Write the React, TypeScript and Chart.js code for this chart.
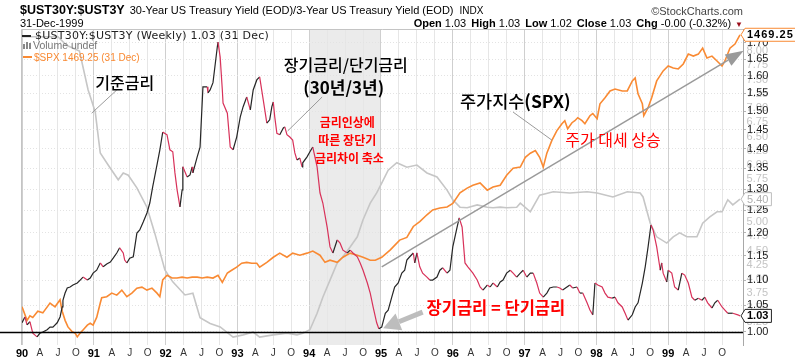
import React, { useEffect, useRef } from 'react';
import { Chart, registerables } from 'chart.js';

Chart.register(...registerables);

// ---------------- data (decimal year, value) ----------------
// 30-year / 3-year treasury yield ratio (weekly, sampled)
const RATIO: [number, number][] = [
  [1990.00,1.017],[1990.04,1.028],[1990.07,1.013],[1990.11,1.019],[1990.15,0.998],[1990.21,0.991],[1990.25,0.998],[1990.29,1.000],
  [1990.35,1.004],[1990.39,1.009],[1990.43,1.009],[1990.49,1.017],[1990.53,1.028],[1990.56,1.047],[1990.57,1.060],[1990.60,1.074],
  [1990.63,1.084],[1990.67,1.086],[1990.71,1.090],[1990.77,1.094],[1990.81,1.100],[1990.85,1.106],[1990.91,1.100],[1990.95,1.104],
  [1990.99,1.114],[1991.04,1.120],[1991.09,1.135],[1991.13,1.127],[1991.18,1.133],[1991.23,1.137],[1991.27,1.145],[1991.32,1.156],
  [1991.36,1.167],[1991.41,1.156],[1991.43,1.141],[1991.46,1.135],[1991.50,1.145],[1991.55,1.148],[1991.60,1.199],[1991.64,1.206],
  [1991.69,1.224],[1991.74,1.244],[1991.78,1.267],[1991.82,1.305],[1991.88,1.359],[1991.92,1.397],[1991.96,1.443],[1992.02,1.436],
  [1992.06,1.397],[1992.10,1.392],[1992.13,1.339],[1992.16,1.298],[1992.20,1.258],[1992.23,1.298],[1992.24,1.354],[1992.30,1.329],
  [1992.34,1.334],[1992.37,1.354],[1992.38,1.339],[1992.44,1.379],[1992.48,1.404],[1992.52,1.568],[1992.58,1.568],[1992.59,1.551],
  [1992.62,1.559],[1992.66,1.580],[1992.72,1.687],[1992.73,1.702],[1992.76,1.656],[1992.79,1.559],[1992.80,1.522],[1992.86,1.494],
  [1992.90,1.404],[1992.94,1.397],[1992.99,1.430],[1993.04,1.484],[1993.08,1.512],[1993.13,1.539],[1993.18,1.503],[1993.22,1.559],
  [1993.27,1.588],[1993.31,1.597],[1993.36,1.531],[1993.41,1.467],[1993.45,1.476],[1993.48,1.512],[1993.50,1.525],[1993.52,1.484],
  [1993.55,1.440],[1993.59,1.436],[1993.64,1.454],[1993.66,1.457],[1993.69,1.436],[1993.73,1.430],[1993.77,1.422],[1993.80,1.389],
  [1993.83,1.371],[1993.87,1.376],[1993.90,1.354],[1993.91,1.364],[1993.97,1.379],[1994.01,1.392],[1994.05,1.404],[1994.11,1.354],
  [1994.15,1.291],[1994.19,1.267],[1994.25,1.212],[1994.29,1.169],[1994.33,1.156],[1994.39,1.184],[1994.43,1.177],[1994.47,1.162],
  [1994.53,1.156],[1994.57,1.162],[1994.61,1.156],[1994.67,1.148],[1994.71,1.135],[1994.75,1.120],[1994.81,1.094],[1994.85,1.074],
  [1994.89,1.047],[1994.94,1.017],[1994.97,1.006],[1995.01,1.009],[1995.06,1.035],[1995.10,1.041],[1995.15,1.066],[1995.19,1.086],
  [1995.24,1.094],[1995.29,1.114],[1995.33,1.120],[1995.36,1.141],[1995.40,1.148],[1995.45,1.156],[1995.47,1.135],[1995.50,1.156],
  [1995.54,1.127],[1995.58,1.114],[1995.64,1.106],[1995.68,1.100],[1995.72,1.100],[1995.78,1.106],[1995.82,1.120],[1995.86,1.125],
  [1995.92,1.114],[1995.96,1.120],[1996.00,1.169],[1996.06,1.212],[1996.09,1.233],[1996.13,1.212],[1996.17,1.135],[1996.21,1.127],
  [1996.28,1.114],[1996.34,1.100],[1996.38,1.086],[1996.42,1.080],[1996.48,1.090],[1996.52,1.086],[1996.56,1.094],[1996.62,1.086],
  [1996.66,1.096],[1996.70,1.100],[1996.75,1.114],[1996.80,1.120],[1996.84,1.114],[1996.89,1.106],[1996.94,1.114],[1996.98,1.120],
  [1997.03,1.106],[1997.08,1.114],[1997.12,1.114],[1997.17,1.094],[1997.21,1.074],[1997.26,1.066],[1997.31,1.074],[1997.35,1.084],
  [1997.40,1.086],[1997.45,1.086],[1997.49,1.084],[1997.53,1.080],[1997.59,1.086],[1997.63,1.090],[1997.67,1.084],[1997.73,1.086],
  [1997.77,1.074],[1997.81,1.074],[1997.87,1.055],[1997.91,1.041],[1997.95,1.032],[1997.98,1.094],[1998.02,1.090],[1998.08,1.086],
  [1998.12,1.074],[1998.16,1.066],[1998.22,1.064],[1998.26,1.066],[1998.30,1.055],[1998.36,1.047],[1998.40,1.035],[1998.44,1.022],
  [1998.50,1.032],[1998.54,1.047],[1998.58,1.055],[1998.64,1.094],[1998.68,1.127],[1998.72,1.169],[1998.76,1.217],[1998.79,1.206],
  [1998.84,1.169],[1998.89,1.120],[1998.91,1.135],[1998.93,1.114],[1998.98,1.096],[1999.00,1.120],[1999.05,1.114],[1999.09,1.086],
  [1999.14,1.080],[1999.19,1.114],[1999.23,1.110],[1999.28,1.094],[1999.33,1.066],[1999.37,1.060],[1999.42,1.064],[1999.47,1.060],
  [1999.51,1.066],[1999.55,1.055],[1999.61,1.045],[1999.65,1.055],[1999.69,1.060],[1999.75,1.047],[1999.79,1.041],[1999.83,1.035],
  [1999.90,1.035],[1999.97,1.032],[2000.00,1.03],
];

// S&P 500 index
const SPX: [number, number][] = [
  [1990.00,343],[1990.07,319],[1990.11,327],[1990.15,324],[1990.22,335],[1990.29,332],[1990.39,350],[1990.46,343],[1990.53,356],
  [1990.56,335],[1990.60,319],[1990.64,308],[1990.70,300],[1990.74,298],[1990.77,292],[1990.81,298],[1990.85,303],[1990.91,311],
  [1990.95,314],[1990.99,311],[1991.04,324],[1991.09,350],[1991.11,360],[1991.18,362],[1991.25,369],[1991.32,365],[1991.39,375],
  [1991.46,362],[1991.53,369],[1991.60,379],[1991.67,381],[1991.74,375],[1991.81,379],[1991.88,369],[1991.92,362],[1991.96,396],
  [1992.02,406],[1992.09,400],[1992.16,400],[1992.23,402],[1992.30,400],[1992.37,402],[1992.44,402],[1992.51,400],[1992.58,402],
  [1992.66,400],[1992.73,406],[1992.79,391],[1992.86,411],[1992.92,417],[1992.99,424],[1993.06,433],[1993.13,435],[1993.20,433],
  [1993.27,433],[1993.31,424],[1993.41,435],[1993.50,447],[1993.59,457],[1993.69,447],[1993.77,457],[1993.87,452],[1993.97,457],
  [1994.05,462],[1994.15,452],[1994.22,435],[1994.29,440],[1994.39,435],[1994.47,447],[1994.57,457],[1994.67,452],[1994.75,447],
  [1994.85,440],[1994.92,440],[1995.01,447],[1995.13,465],[1995.26,490],[1995.36,497],[1995.45,527],[1995.54,541],[1995.64,561],
  [1995.72,576],[1995.82,582],[1995.92,585],[1996.00,596],[1996.10,631],[1996.20,647],[1996.28,657],[1996.38,665],[1996.48,640],
  [1996.56,651],[1996.66,657],[1996.75,693],[1996.84,720],[1996.94,724],[1997.01,763],[1997.08,780],[1997.15,791],[1997.21,763],
  [1997.26,724],[1997.31,780],[1997.38,835],[1997.45,880],[1997.52,913],[1997.56,928],[1997.60,889],[1997.66,918],[1997.70,928],
  [1997.74,943],[1997.80,928],[1997.84,913],[1997.91,953],[1997.95,964],[1998.01,938],[1998.05,1016],[1998.12,1049],[1998.19,1088],
  [1998.26,1099],[1998.36,1088],[1998.43,1088],[1998.50,1148],[1998.54,1166],[1998.58,1071],[1998.64,1016],[1998.66,953],
  [1998.72,995],[1998.77,1049],[1998.84,1148],[1998.93,1211],[1999.00,1243],[1999.07,1230],[1999.14,1224],[1999.21,1257],
  [1999.28,1325],[1999.35,1311],[1999.42,1325],[1999.48,1368],[1999.54,1297],[1999.61,1311],[1999.68,1277],[1999.75,1243],
  [1999.79,1277],[1999.86,1368],[1999.93,1398],[2000.00,1469.25],
];

// Fed funds rate (기준금리)
const FED: [number, number][] = [
  [1990.00,8.25],[1990.50,8.25],[1990.62,8.10],[1990.80,8.00],[1990.92,7.32],[1991.02,6.93],[1991.09,6.21],[1991.20,6.00],
  [1991.34,5.74],[1991.41,5.86],[1991.48,5.82],[1991.60,5.60],[1991.74,5.26],[1991.85,4.80],[1991.99,4.16],[1992.10,3.95],
  [1992.27,3.72],[1992.38,3.75],[1992.48,3.32],[1992.62,3.22],[1992.76,3.16],[1992.94,2.98],[1993.08,3.02],[1993.22,3.07],
  [1993.31,2.98],[1993.50,3.02],[1993.69,3.05],[1993.83,3.02],[1993.91,3.05],[1994.01,3.11],[1994.11,3.40],[1994.19,3.68],
  [1994.29,3.98],[1994.39,4.28],[1994.47,4.39],[1994.57,4.56],[1994.67,4.74],[1994.75,5.04],[1994.85,5.33],[1994.94,5.51],
  [1995.01,5.68],[1995.10,5.91],[1995.22,6.04],[1995.36,5.96],[1995.50,6.00],[1995.64,5.86],[1995.78,5.79],[1995.92,5.56],
  [1996.00,5.39],[1996.10,5.26],[1996.20,5.25],[1996.34,5.30],[1996.48,5.26],[1996.56,5.25],[1996.66,5.26],[1996.75,5.25],
  [1996.89,5.26],[1996.94,5.33],[1997.08,5.18],[1997.21,5.47],[1997.40,5.53],[1997.63,5.51],[1997.87,5.53],[1998.01,5.51],
  [1998.23,5.44],[1998.43,5.53],[1998.61,5.51],[1998.65,5.44],[1998.75,4.98],[1998.84,4.74],[1998.98,4.63],[1999.07,4.74],
  [1999.16,4.81],[1999.26,4.74],[1999.40,4.74],[1999.48,4.98],[1999.58,5.09],[1999.68,5.18],[1999.75,5.18],[1999.83,5.39],
  [1999.90,5.30],[2000.00,5.40],
];

const YEARS = [1990, 1991, 1992, 1993, 1994, 1995, 1996, 1997, 1998, 1999];
const YEAR_LABELS = ['90', '91', '92', '93', '94', '95', '96', '97', '98', '99'];
const QUARTER_LABELS = ['', 'A', 'J', 'O'];
const RATIO_TICKS = [1.0, 1.05, 1.1, 1.15, 1.2, 1.25, 1.3, 1.35, 1.4, 1.45, 1.5, 1.55, 1.6, 1.65, 1.7];
const FED_TICKS = [3.25, 3.5, 3.75, 4.0, 4.25, 4.5, 4.75, 5.0, 5.25, 5.5, 5.75, 6.0, 6.25, 6.5, 6.75, 7.0, 7.25, 7.5, 7.75, 8.0];
const SHADE = [1994.0, 1995.0];

// annotations anchored in (year, ratio-axis value)
const NOTES = [
  { text: '기준금리', t: 1991.43, v: 1.579, size: 16, weight: '500', color: '#000' },
  { text: '장기금리/단기금리', t: 1994.51, v: 1.632, size: 16, weight: '500', color: '#000' },
  { text: '(30년/3년)', t: 1994.48, v: 1.565, size: 17, weight: 'bold', color: '#000' },
  { text: '금리인상에', t: 1994.53, v: 1.470, size: 12, weight: 'bold', color: '#ff0000' },
  { text: '따른 장단기', t: 1994.53, v: 1.422, size: 12, weight: 'bold', color: '#ff0000' },
  { text: '금리차이 축소', t: 1994.56, v: 1.376, size: 12, weight: 'bold', color: '#ff0000' },
  { text: '주가 대세 상승', t: 1998.23, v: 1.422, size: 16, weight: 'normal', color: '#ff0000' },
  { text: '장기금리 = 단기금리', t: 1996.60, v: 1.045, size: 16.5, weight: 'bold', color: '#ff0000' },
];
const SPX_NOTE = { a: '주가지수', b: '(SPX)', t: 1996.87, v: 1.528, size: 17.5 };
const CONNECTORS = [
  [1991.32, 1.559, 1990.97, 1.494],
  [1994.18, 1.539, 1993.70, 1.446],
  [1996.84, 1.497, 1997.38, 1.422],
];
const TREND_ARROW = [1995.01, 1.127, 2000.05, 1.675];
const EQUAL_ARROW = [1995.58, 1.037, 1995.03, 1.007];

const SANS = '"Liberation Sans", Arial, sans-serif';
const KR = '"Noto Sans CJK KR", "Noto Sans CJK SC", sans-serif';
const ORANGE = '#f98a33';
const RED_DOWN = '#d8325a';
const DARK_UP = '#262626';

function isYearTick(v: number) {
  return Math.abs(v - Math.round(v)) < 1e-6;
}

function arrow(ctx: any, x0: number, y0: number, x1: number, y1: number, w: number, hl: number, hh: number, color: string) {
  const a = Math.atan2(y1 - y0, x1 - x0);
  const bx = x1 - hl * Math.cos(a);
  const by = y1 - hl * Math.sin(a);
  ctx.strokeStyle = color;
  ctx.lineWidth = w;
  ctx.beginPath();
  ctx.moveTo(x0, y0);
  ctx.lineTo(bx, by);
  ctx.stroke();
  ctx.fillStyle = color;
  ctx.beginPath();
  ctx.moveTo(x1, y1);
  ctx.lineTo(bx + hh * Math.sin(a), by - hh * Math.cos(a));
  ctx.lineTo(bx - hh * Math.sin(a), by + hh * Math.cos(a));
  ctx.closePath();
  ctx.fill();
}

function tag(ctx: any, x: number, y: number, text: string, stroke: string, color: string, font: string, spacing: string) {
  ctx.save();
  ctx.font = font;
  (ctx as any).letterSpacing = spacing;
  const w = ctx.measureText(text).width;
  const h = 13;
  const tip = 4;
  ctx.beginPath();
  ctx.moveTo(x, y);
  ctx.lineTo(x + tip, y - h / 2);
  ctx.lineTo(x + tip + w + 5, y - h / 2);
  ctx.lineTo(x + tip + w + 5, y + h / 2);
  ctx.lineTo(x + tip, y + h / 2);
  ctx.closePath();
  ctx.fillStyle = '#fff';
  ctx.fill();
  ctx.strokeStyle = stroke;
  ctx.lineWidth = 1;
  ctx.stroke();
  ctx.fillStyle = color;
  ctx.textAlign = 'left';
  ctx.textBaseline = 'middle';
  ctx.fillText(text, x + tip + 2, y + 0.5);
  ctx.restore();
}

const annotPlugin = {
  id: 'annot',
  beforeDraw(chart: any) {
    const { ctx, chartArea: a, scales } = chart;
    const x0 = scales.x.getPixelForValue(SHADE[0]);
    const x1 = scales.x.getPixelForValue(SHADE[1]);
    ctx.save();
    ctx.fillStyle = '#ebebeb';
    ctx.fillRect(x0, a.top, x1 - x0, a.bottom - a.top);
    ctx.restore();
  },
  afterDatasetsDraw(chart: any) {
    const { ctx, chartArea: a, scales } = chart;
    const X = (t: number) => scales.x.getPixelForValue(t);
    const Y = (v: number) => scales.y.getPixelForValue(v);
    ctx.save();
    // frame
    ctx.strokeStyle = '#c4c4c4';
    ctx.lineWidth = 1;
    ctx.beginPath();
    ctx.moveTo(a.left + 0.5, a.bottom);
    ctx.lineTo(a.left + 0.5, a.top + 0.5);
    ctx.lineTo(a.right, a.top + 0.5);
    ctx.stroke();
    // parity line at ratio 1.00
    const y1 = Math.round(Y(1.0)) + 0.5;
    ctx.strokeStyle = '#000';
    ctx.lineWidth = 1.5;
    ctx.beginPath();
    ctx.moveTo(0, y1);
    ctx.lineTo(a.right, y1);
    ctx.stroke();
    // connectors
    ctx.strokeStyle = '#9a9a9a';
    ctx.lineWidth = 1;
    CONNECTORS.forEach(([t0, v0, t1, v1]) => {
      ctx.beginPath();
      ctx.moveTo(X(t0), Y(v0));
      ctx.lineTo(X(t1), Y(v1));
      ctx.stroke();
    });
    // arrows
    arrow(ctx, X(TREND_ARROW[0]), Y(TREND_ARROW[1]), X(TREND_ARROW[2]), Y(TREND_ARROW[3]), 1.5, 18, 6.5, '#9a9a9a');
    arrow(ctx, X(EQUAL_ARROW[0]), Y(EQUAL_ARROW[1]), X(EQUAL_ARROW[2]), Y(EQUAL_ARROW[3]), 5, 17, 9, '#bdbdbd');
    // texts
    ctx.textAlign = 'center';
    ctx.textBaseline = 'middle';
    NOTES.forEach((n) => {
      ctx.font = `${n.weight} ${n.size}px ${KR}`;
      ctx.fillStyle = n.color;
      ctx.fillText(n.text, X(n.t), Y(n.v));
    });
    // 주가지수(SPX)
    const fa = `500 ${SPX_NOTE.size}px ${KR}`;
    const fb = `bold ${SPX_NOTE.size}px ${KR}`;
    ctx.font = fa;
    const wa = ctx.measureText(SPX_NOTE.a).width;
    ctx.font = fb;
    const wb = ctx.measureText(SPX_NOTE.b).width;
    const sx = X(SPX_NOTE.t) - (wa + wb) / 2;
    const sy = Y(SPX_NOTE.v);
    ctx.textAlign = 'left';
    ctx.fillStyle = '#000';
    ctx.font = fa;
    ctx.fillText(SPX_NOTE.a, sx, sy);
    ctx.font = fb;
    ctx.fillText(SPX_NOTE.b, sx + wa, sy);
    ctx.restore();
  },
  afterDraw(chart: any) {
    const { ctx, chartArea: a, scales } = chart;
    const lastR = RATIO[RATIO.length - 1][1];
    const lastS = SPX[SPX.length - 1][1];
    const lastF = FED[FED.length - 1][1];
    tag(ctx, a.right - 2, scales.yFed.getPixelForValue(lastF), lastF.toFixed(2), '#bdbdbd', '#b0b0b0', `11px ${SANS}`, '0px');
    tag(ctx, a.right - 2, scales.y.getPixelForValue(lastR), lastR.toFixed(2), '#222', '#000', `bold 11px ${SANS}`, '0px');
    tag(ctx, a.right - 2, scales.ySpx.getPixelForValue(lastS), lastS.toFixed(2), ORANGE, '#000', `bold 11px ${SANS}`, '1px');
  },
};

const QUARTER_TICKS: number[] = [];
YEARS.forEach((y) => [0, 1, 2, 3].forEach((q) => QUARTER_TICKS.push(y + q / 4)));

function quarterLabel(v: number) {
  const q = Math.round((v - YEARS[0]) * 4);
  if (q % 4 === 0) return YEAR_LABELS[q / 4];
  return QUARTER_LABELS[q % 4];
}

export default function App() {
  const ref = useRef<HTMLCanvasElement>(null);

  useEffect(() => {
    const canvas = ref.current as HTMLCanvasElement;
    const pts = (arr: [number, number][]) => arr.map(([x, y]) => ({ x, y }));
    const chart = new Chart(canvas, {
      type: 'line',
      data: {
        datasets: [
          {
            label: '$UST30Y:$UST3Y',
            data: pts(RATIO),
            yAxisID: 'y',
            borderColor: DARK_UP,
            borderWidth: 1.2,
            pointRadius: 0,
            segment: {
              borderColor: (c: any) => (c.p1.parsed.y < c.p0.parsed.y ? RED_DOWN : DARK_UP),
            },
          },
          {
            label: '$SPX',
            data: pts(SPX),
            yAxisID: 'ySpx',
            borderColor: ORANGE,
            borderWidth: 1.6,
            pointRadius: 0,
          },
          {
            label: 'Fed',
            data: pts(FED),
            yAxisID: 'yFed',
            borderColor: '#c6c6c6',
            borderWidth: 1.6,
            pointRadius: 0,
          },
        ],
      } as any,
      options: {
        responsive: false,
        animation: false,
        devicePixelRatio: 1,
        layout: { padding: { left: 21, top: 29, right: 0, bottom: 0 } },
        plugins: { legend: { display: false }, tooltip: { enabled: false } },
        elements: { line: { tension: 0 }, point: { radius: 0 } },
        scales: {
          x: {
            type: 'linear',
            min: 1989.986,
            max: 2000.042,
            afterBuildTicks: (s: any) => {
              s.ticks = QUARTER_TICKS.map((v) => ({ value: v }));
            },
            afterFit: (s: any) => {
              s.height = 15;
              s.paddingLeft = 0;
              s.paddingRight = 0;
            },
            border: { display: false },
            grid: {
              drawTicks: false,
              color: (c: any) => (c.tick && isYearTick(c.tick.value) ? '#cfcfcf' : '#e6e6e6'),
            },
            ticks: {
              autoSkip: false,
              maxRotation: 0,
              padding: 2,
              callback: (v: any) => quarterLabel(Number(v)),
              color: (c: any) => (c.tick && isYearTick(c.tick.value) ? '#000' : '#333'),
              font: (c: any) =>
                c.tick && isYearTick(c.tick.value)
                  ? { family: SANS, size: 11, weight: 'bold' }
                  : { family: SANS, size: 10, weight: 'normal' },
            },
          },
          yFed: {
            type: 'linear',
            position: 'right',
            weight: 0,
            min: 2.842,
            max: 8.386,
            afterBuildTicks: (s: any) => {
              s.ticks = FED_TICKS.map((v) => ({ value: v }));
            },
            afterFit: (s: any) => {
              s.width = 0;
              s.paddingTop = 0;
              s.paddingBottom = 0;
            },
            grid: { display: false, drawTicks: false },
            border: { display: false },
            ticks: {
              autoSkip: false,
              mirror: true,
              crossAlign: 'near',
              padding: 25,
              color: '#c4c4c4',
              font: { family: SANS, size: 11 },
              callback: (v: any) => Number(v).toFixed(2),
            },
          },
          y: {
            type: 'logarithmic',
            position: 'right',
            weight: 1,
            min: 0.9764,
            max: 1.7436,
            afterBuildTicks: (s: any) => {
              s.ticks = RATIO_TICKS.map((v) => ({ value: v }));
            },
            afterFit: (s: any) => {
              s.width = 52;
              s.paddingTop = 0;
              s.paddingBottom = 0;
            },
            grid: { color: '#e3e3e3', drawTicks: true, tickLength: 3, tickColor: '#b5b5b5' },
            border: { display: true, color: '#a8a8a8', dash: [1, 2] },
            ticks: {
              autoSkip: false,
              padding: 1,
              color: '#1a1a1a',
              font: { family: SANS, size: 11 },
              callback: (v: any) => Number(v).toFixed(2),
            },
          },
          ySpx: {
            type: 'logarithmic',
            display: false,
            min: 279.6,
            max: 1515.3,
          },
        },
      } as any,
      plugins: [annotPlugin],
    });
    return () => chart.destroy();
  }, []);

  const abs = (o: any) => ({ position: 'absolute', whiteSpace: 'nowrap', pointerEvents: 'none', ...o }) as any;

  return (
    <div style={{ position: 'absolute', left: 0, top: 0, width: 795, height: 360, background: '#fff', overflow: 'hidden' }}>
      <canvas ref={ref} width={795} height={360} style={{ position: 'absolute', left: 0, top: 0, width: 795, height: 360 }} />
      {/* header */}
      <div style={abs({ left: 20, top: 2, lineHeight: '17px', fontFamily: SANS, fontSize: 12.5, fontWeight: 'bold', color: '#000' })}>
        $UST30Y:$UST3Y
        <span style={{ fontSize: 11, fontWeight: 'normal', marginLeft: 5 }}>30-Year US Treasury Yield (EOD)/3-Year US Treasury Yield (EOD)</span>
        <span style={{ fontSize: 10, fontWeight: 'normal', marginLeft: 6 }}>INDX</span>
      </div>
      <div style={abs({ right: 52, top: 4, lineHeight: '14px', fontFamily: SANS, fontSize: 11, color: '#444' })}>©StockCharts.com</div>
      <div style={abs({ left: 20, top: 16, lineHeight: '14px', fontFamily: SANS, fontSize: 11, color: '#000' })}>31-Dec-1999</div>
      <div style={abs({ right: 52, top: 16, lineHeight: '14px', fontFamily: SANS, fontSize: 11, color: '#000' })}>
        <b>Open</b> 1.03 <b style={{ marginLeft: 2 }}>High</b> 1.03 <b style={{ marginLeft: 2 }}>Low</b> 1.02{' '}
        <b style={{ marginLeft: 2 }}>Close</b> 1.03 <b style={{ marginLeft: 2 }}>Chg</b> -0.00 (-0.32%)
        <span style={{ color: '#9b0d1a', fontSize: 8, marginLeft: 4 }}>▼</span>
      </div>
      {/* legend */}
      <div style={abs({ left: 22, top: 35, width: 9, height: 2, background: '#222' })} />
      <div style={abs({ left: 35, top: 29, lineHeight: '14px', fontFamily: '"DejaVu Sans", sans-serif', fontSize: 11, letterSpacing: '0.25px', color: '#222' })}>
        $UST30Y:$UST3Y (Weekly) 1.03 (31 Dec)
      </div>
      <div style={abs({ left: 23, top: 44, width: 2, height: 5, background: '#888' })} />
      <div style={abs({ left: 26, top: 42, width: 2, height: 7, background: '#888' })} />
      <div style={abs({ left: 29, top: 43, width: 2, height: 6, background: '#888' })} />
      <div style={abs({ left: 33, top: 39, lineHeight: '13px', fontFamily: SANS, fontSize: 10.5, color: '#777' })}>Volume undef</div>
      <div style={abs({ left: 23, top: 56, width: 9, height: 2, background: ORANGE })} />
      <div style={abs({ left: 34, top: 50.5, lineHeight: '13px', fontFamily: SANS, fontSize: 10, color: ORANGE })}>$SPX 1469.25 (31 Dec)</div>
    </div>
  );
}
